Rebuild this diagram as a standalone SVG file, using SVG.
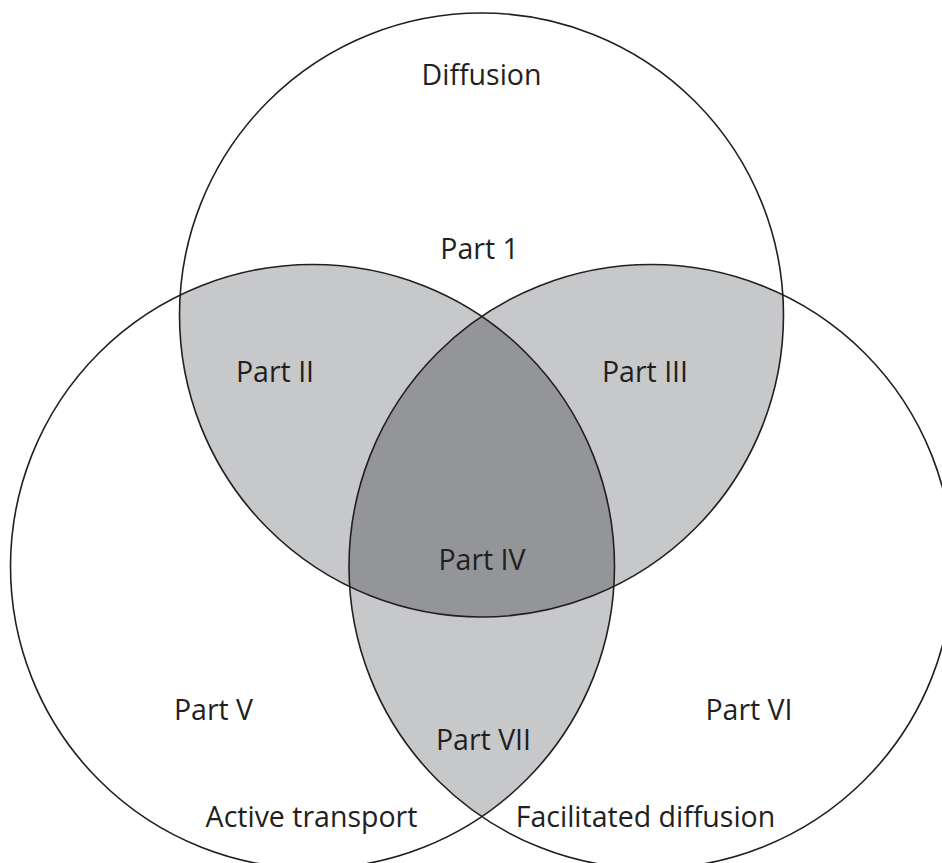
<svg xmlns="http://www.w3.org/2000/svg" width="942" height="863" viewBox="0 0 942 863">
  <style>
    .outline { fill: none; stroke: #231f20; stroke-width: 1.6; }
    .light { fill: #c7c8ca; stroke: none; }
    .dark { fill: #939598; stroke: none; }
    .lbl { font-family: "Open Sans", "Noto Sans", "Liberation Sans", sans-serif; font-size: 28.5px; fill: #231f20; text-anchor: middle; }
  </style>
  <defs>
    <clipPath id="clipTop"><circle cx="481.5" cy="315" r="302"/></clipPath>
    <clipPath id="clipLeft"><circle cx="312.5" cy="566.5" r="302"/></clipPath>
    <clipPath id="clipRight"><circle cx="651" cy="566.5" r="302"/></clipPath>
  </defs>
  <rect x="0" y="0" width="942" height="863" fill="#ffffff"/>

  <g id="region-part2">
    <g clip-path="url(#clipLeft)"><circle class="light" cx="481.5" cy="315" r="302"/></g>
  </g>
  <g id="region-part3">
    <g clip-path="url(#clipRight)"><circle class="light" cx="481.5" cy="315" r="302"/></g>
  </g>
  <g id="region-part7">
    <g clip-path="url(#clipRight)"><circle class="light" cx="312.5" cy="566.5" r="302"/></g>
  </g>
  <g id="region-part4">
    <g clip-path="url(#clipRight)"><g clip-path="url(#clipLeft)"><circle class="dark" cx="481.5" cy="315" r="302"/></g></g>
  </g>

  <g id="circle-diffusion">
    <circle class="outline" cx="481.5" cy="315" r="302"/>
    <text class="lbl" x="481.5" y="85">Diffusion</text>
  </g>
  <g id="circle-active-transport">
    <circle class="outline" cx="312.5" cy="566.5" r="302"/>
    <text class="lbl" x="311.5" y="827">Active transport</text>
  </g>
  <g id="circle-facilitated-diffusion">
    <circle class="outline" cx="651" cy="566.5" r="302"/>
    <text class="lbl" x="645.5" y="827">Facilitated diffusion</text>
  </g>

  <g id="labels">
    <text class="lbl" x="479.5" y="259">Part 1</text>
    <text class="lbl" x="275" y="382">Part II</text>
    <text class="lbl" x="645" y="382">Part III</text>
    <text class="lbl" x="482" y="570">Part IV</text>
    <text class="lbl" x="213.5" y="720">Part V</text>
    <text class="lbl" x="749" y="720">Part VI</text>
    <text class="lbl" x="483.5" y="750">Part VII</text>
  </g>
</svg>
